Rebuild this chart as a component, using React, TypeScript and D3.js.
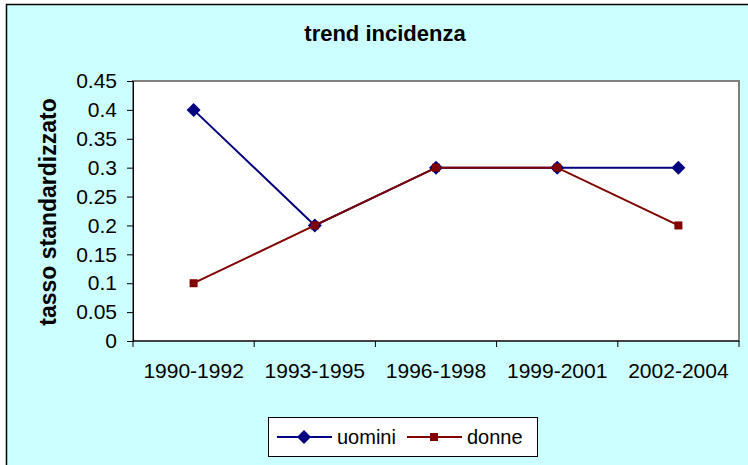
import { useEffect, useRef } from "react"
import * as d3 from "d3"

const categories = ["1990-1992", "1993-1995", "1996-1998", "1999-2001", "2002-2004"]
const uomini = [0.4, 0.2, 0.3, 0.3, 0.3]
const donne = [0.1, 0.2, 0.3, 0.3, 0.2]
const yTicks = [0, 0.05, 0.1, 0.15, 0.2, 0.25, 0.3, 0.35, 0.4, 0.45]

const series = [
  { name: "uomini", values: uomini, color: "#000080", marker: "diamond" },
  { name: "donne", values: donne, color: "#800000", marker: "square" },
]

export default function App() {
  const svgRef = useRef<SVGSVGElement>(null)

  useEffect(() => {
    if (!svgRef.current) return
    const width = 748
    const height = 465
    const margin = { top: 81, right: 9, bottom: 124, left: 133 }

    d3.select(svgRef.current).selectAll("*").remove()
    const svg = d3.select(svgRef.current).attr("width", width).attr("height", height)

    // background
    svg.append("rect").attr("width", width).attr("height", height).attr("fill", "#ffffff")
    svg
      .append("rect")
      .attr("x", 6.5)
      .attr("y", 4.5)
      .attr("width", width)
      .attr("height", height)
      .attr("fill", "#ccffff")
      .attr("stroke", "#000")
      .attr("stroke-width", 1.5)

    const x = d3
      .scaleBand()
      .domain(categories)
      .range([margin.left, width - margin.right])

    const y = d3
      .scaleLinear()
      .domain([0, 0.45])
      .range([height - margin.bottom, margin.top])

    // plot area
    svg
      .append("rect")
      .attr("x", margin.left)
      .attr("y", margin.top)
      .attr("width", width - margin.right - margin.left)
      .attr("height", height - margin.bottom - margin.top)
      .attr("fill", "#ffffff")
      .attr("stroke", "#808080")
      .attr("stroke-width", 2)

    const font = "Arial, 'Liberation Sans', sans-serif"

    // y axis
    const yAxis = svg
      .append("g")
      .attr("transform", `translate(${margin.left},0)`)
      .call(
        d3
          .axisLeft(y)
          .tickValues(yTicks)
          .tickSize(6)
          .tickPadding(10)
          .tickFormat((d) => String(+(d as number).toFixed(2))),
      )
    yAxis.selectAll("text").attr("font-family", font).attr("font-size", "21px").attr("fill", "#000")
    yAxis.select(".domain").attr("stroke", "#000")

    // x axis
    const xAxis = svg
      .append("g")
      .attr("transform", `translate(0,${height - margin.bottom})`)
      .call(d3.axisBottom(x).tickSize(0).tickPadding(22))
    xAxis.selectAll("text").attr("font-family", font).attr("font-size", "21px").attr("fill", "#000")
    xAxis.select(".domain").attr("stroke", "#000").attr("d", `M${margin.left},0H${width - margin.right}`)
    xAxis
      .selectAll("line.sep")
      .data(d3.range(categories.length + 1))
      .enter()
      .append("line")
      .attr("class", "sep")
      .attr("x1", (i) => margin.left + i * x.step())
      .attr("x2", (i) => margin.left + i * x.step())
      .attr("y1", 0)
      .attr("y2", 6)
      .attr("stroke", "#000")

    const cx = (c: string) => (x(c) as number) + x.bandwidth() / 2

    const drawMarker = (g: d3.Selection<SVGGElement, unknown, null, undefined>, kind: string, px: number, py: number, color: string) => {
      if (kind === "diamond") {
        g.append("path")
          .attr("d", `M${px},${py - 7}L${px + 7},${py}L${px},${py + 7}L${px - 7},${py}Z`)
          .attr("fill", color)
      } else {
        g.append("rect")
          .attr("x", px - 4)
          .attr("y", py - 4)
          .attr("width", 8)
          .attr("height", 8)
          .attr("fill", color)
      }
    }

    series.forEach((s) => {
      const line = d3
        .line<number>()
        .x((_, i) => cx(categories[i]))
        .y((d) => y(d))
      const g = svg.append("g")
      g.append("path")
        .datum(s.values)
        .attr("fill", "none")
        .attr("stroke", s.color)
        .attr("stroke-width", 2)
        .attr("d", line)
      s.values.forEach((v, i) => drawMarker(g, s.marker, cx(categories[i]), y(v), s.color))
    })

    // title
    svg
      .append("text")
      .attr("x", 385)
      .attr("y", 41)
      .attr("text-anchor", "middle")
      .attr("font-family", font)
      .attr("font-weight", "bold")
      .attr("font-size", "22px")
      .text("trend incidenza")

    // y label
    svg
      .append("text")
      .attr("transform", "rotate(-90)")
      .attr("x", -212)
      .attr("y", 56)
      .attr("text-anchor", "middle")
      .attr("font-family", font)
      .attr("font-weight", "bold")
      .attr("font-size", "23px")
      .text("tasso standardizzato")

    // legend
    const lg = svg.append("g")
    lg.append("rect")
      .attr("x", 268.5)
      .attr("y", 417.5)
      .attr("width", 269)
      .attr("height", 39)
      .attr("fill", "#ffffff")
      .attr("stroke", "#000")
      .attr("stroke-width", 1)
    const legendItems = [
      { s: series[0], x0: 277, text: "uomini" },
      { s: series[1], x0: 407, text: "donne" },
    ]
    legendItems.forEach(({ s, x0, text }) => {
      const ly = 437
      const gi = lg.append("g")
      gi.append("line")
        .attr("x1", x0)
        .attr("x2", x0 + 55)
        .attr("y1", ly)
        .attr("y2", ly)
        .attr("stroke", s.color)
        .attr("stroke-width", 2)
      drawMarker(gi, s.marker, x0 + 27, ly, s.color)
      gi.append("text")
        .attr("x", x0 + 60)
        .attr("y", ly + 7)
        .attr("font-family", font)
        .attr("font-size", "20px")
        .text(text)
    })
  }, [])

  return (
    <div style={{ position: "fixed", left: 0, top: 0 }}>
      <svg ref={svgRef} style={{ display: "block" }} />
    </div>
  )
}
